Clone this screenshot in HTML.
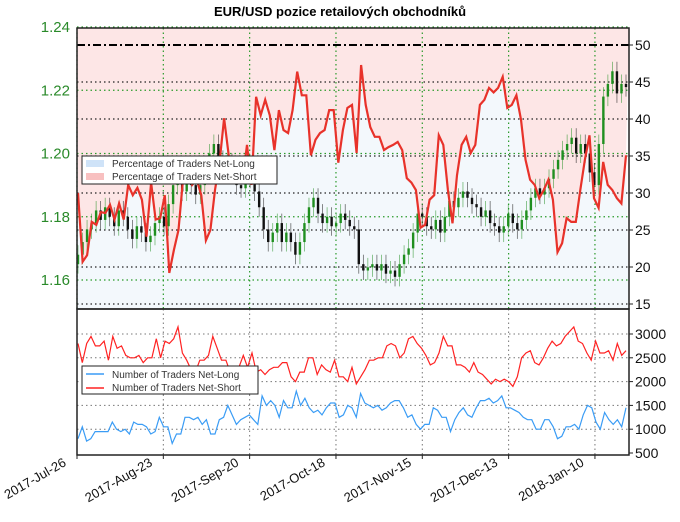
<!DOCTYPE html>
<html><head><meta charset="utf-8"><style>
body{margin:0;background:#fff;width:680px;height:517px;overflow:hidden}
svg text{font-family:"Liberation Sans",sans-serif}
</style></head><body>
<svg id="c" width="680" height="517" viewBox="0 0 680 517">
<text x="340" y="16" text-anchor="middle" font-size="13" font-weight="bold">EUR/USD pozice retailových obchodníků</text>
<g id="topPanel"></g>
<g id="botPanel"></g>
</svg>
<script>
const dateTicks=["2017-Jul-26","2017-Aug-23","2017-Sep-20","2017-Oct-18","2017-Nov-15","2017-Dec-13","2018-Jan-10"];
const dateTickDays=[0,28,56,84,112,140,168];
const priceTicks=[1.16,1.18,1.20,1.22,1.24];
const pctTicks=[15,20,25,30,35,40,45,50];
const countTicks=[500,1000,1500,2000,2500,3000];
const closes=[1.168,1.172,1.176,1.178,1.182,1.179,1.183,1.180,1.177,1.182,1.180,1.176,1.173,1.177,1.175,1.172,1.174,1.178,1.180,1.177,1.184,1.190,1.195,1.188,1.192,1.190,1.187,1.190,1.196,1.200,1.203,1.198,1.195,1.197,1.194,1.190,1.189,1.195,1.192,1.188,1.183,1.176,1.172,1.175,1.178,1.172,1.175,1.172,1.168,1.172,1.178,1.183,1.186,1.181,1.178,1.180,1.177,1.178,1.181,1.179,1.177,1.176,1.165,1.163,1.164,1.165,1.163,1.165,1.162,1.163,1.161,1.165,1.168,1.170,1.175,1.181,1.180,1.177,1.176,1.179,1.175,1.180,1.185,1.183,1.186,1.188,1.186,1.184,1.183,1.180,1.182,1.178,1.177,1.175,1.177,1.181,1.178,1.176,1.179,1.182,1.186,1.189,1.187,1.189,1.192,1.195,1.198,1.201,1.203,1.205,1.200,1.203,1.200,1.194,1.190,1.203,1.218,1.222,1.226,1.219,1.222,1.221];
const netShortPct=[30.0,20.7,21.6,26.1,25.7,27.4,27.3,28.4,26.4,28.6,26.4,31.1,29.7,30.7,29.1,24.1,31.4,26.4,26.6,29.7,19.2,22.3,25.0,31.8,32.4,31.1,31.8,29.7,23.6,25.0,30.4,34.2,40.1,35.1,33.1,31.4,31.5,36.5,31.1,43.0,40.5,42.6,40.5,35.8,41.2,38.5,38.1,41.2,46.4,43.2,43.2,35.1,37.2,38.1,38.5,41.2,41.2,34.1,38.5,41.5,41.9,35.4,47.3,41.9,38.9,37.6,37.6,35.8,36.2,36.5,36.9,35.8,32.0,31.4,30.4,25.3,25.7,29.1,29.7,37.8,36.5,30.4,25.9,32.4,36.5,37.6,35.4,36.5,41.9,42.6,44.2,43.6,44.2,45.7,41.5,41.9,43.2,39.9,34.5,31.8,31.1,29.3,30.4,31.8,29.1,22.0,23.2,26.6,26.1,26.1,30.4,34.5,37.8,29.3,28.0,34.2,31.1,30.4,29.3,28.6,35.1];
const netShortCount=[2800,2400,2800,2950,2750,2750,2850,2450,2950,2700,2750,2550,2500,2500,2550,2400,2500,2500,2900,2500,2850,2800,2900,3150,2600,2450,2250,2200,2450,2450,2550,2950,2700,2450,2450,2200,2250,2300,2550,2300,2600,2200,2250,2150,2250,2300,2300,2400,2400,2100,2000,2200,2200,2500,2500,2150,2350,2250,2200,2450,2100,2100,2000,2300,1950,2100,2250,2450,2450,2500,2500,2750,2800,2750,2500,2600,2900,2950,2800,2700,2550,2350,2400,2600,2950,2750,2750,2350,2350,2300,2200,2400,2200,2150,2050,1950,2050,2000,2050,2000,1900,2100,2500,2600,2650,2400,2350,2500,2700,2850,2750,2800,2950,3050,3150,2850,2800,2600,2450,2850,2600,2600,2650,2450,2800,2550,2650];
const netLongCount=[800,1050,750,800,950,950,950,950,1150,1000,950,1000,900,1150,1100,1100,1050,900,950,1250,1050,1050,700,900,900,1250,1250,1200,1250,1100,1200,900,900,1200,1250,1500,1300,1100,1200,1250,1300,1200,1100,1700,1500,1600,1500,1250,1600,1450,1450,1800,1500,1650,1450,1350,1400,1300,1450,1550,1550,1250,1300,1500,1450,1250,1750,1550,1500,1450,1500,1400,1450,1550,1600,1600,1450,1250,1300,1100,1000,1100,1100,1450,1400,1250,1250,950,1200,1350,1450,1300,1250,1450,1600,1600,1650,1550,1600,1700,1450,1450,1400,1350,1250,1200,1200,1000,1000,1200,1200,1050,800,850,1050,1050,1100,1000,1300,1500,1450,1150,1000,1350,1200,1100,1200,1050,1450];

const NS="http://www.w3.org/2000/svg";
const L=77,R=629,T1=28,B1=309,T2=309,B2=455;
function mk(p,tag,a){const e=document.createElementNS(NS,tag);for(const k in a)e.setAttribute(k,a[k]);p.appendChild(e);return e;}
const xDay=d=>L+d*3.083;
const yPrice=p=>27+(1.24-p)*3162.5;
const yPct=v=>45+(50-v)*7.4;
const yCnt=v=>453-(v-500)*0.0476;
const xIdx=(i,n)=>L+1+i*(R-L-4)/(n-1);
const topG=document.getElementById('topPanel'),botG=document.getElementById('botPanel');

let ptsS=netShortPct.map((v,i)=>xIdx(i,netShortPct.length).toFixed(1)+','+yPct(v).toFixed(1));
let f1=mk(topG,'polygon',{points:L+','+T1+' '+ptsS.join(' ')+' '+R+','+T1,fill:'#fde6e6'});


let f2=mk(topG,'polygon',{points:L+','+B1+' '+ptsS.join(' ')+' '+R+','+B1,fill:'#f3f8fc'});


pctTicks.forEach(v=>{if(v===50)return;const l=mk(topG,'line',{x1:L,x2:R,y1:yPct(v),y2:yPct(v),stroke:'#222','stroke-dasharray':'1.5,3','stroke-width':1.2});

});
priceTicks.forEach(p=>{const l=mk(topG,'line',{x1:L,x2:R,y1:yPrice(p),y2:yPrice(p),stroke:'#2a9a2a','stroke-dasharray':'1.5,3','stroke-width':1.2});

});
dateTickDays.forEach(d=>{const l=mk(topG,'line',{x1:xDay(d),x2:xDay(d),y1:T1,y2:B1,stroke:'#2a9a2a','stroke-dasharray':'1.5,3','stroke-width':1.2});

});
const l50=mk(topG,'line',{x1:L,x2:R,y1:yPct(50),y2:yPct(50),stroke:'#000','stroke-dasharray':'8,3,2,3','stroke-width':2});


closes.forEach((c,i)=>{const o=i?closes[i-1]:c-0.003;const x=xIdx(i,closes.length);const col=c>=o?'#1f8f1f':'#111';
const g=mk(topG,'g',{});


mk(g,'line',{x1:x,x2:x,y1:yPrice(Math.max(o,c)+0.003),y2:yPrice(Math.min(o,c)-0.003),stroke:col,'stroke-width':0.7,opacity:0.7});
mk(g,'rect',{x:x-1.2,y:yPrice(Math.max(o,c)),width:2.4,height:Math.max(1,Math.abs(yPrice(o)-yPrice(c))),fill:col});});
const sl=mk(topG,'polyline',{points:ptsS.join(' '),fill:'none',stroke:'#e8322a','stroke-width':2.2});


mk(topG,'rect',{x:L,y:T1,width:R-L,height:B1-T1,fill:'none',stroke:'#222','stroke-width':1.5});
priceTicks.forEach(p=>{const t=mk(topG,'text',{x:70,y:yPrice(p)+5,'text-anchor':'end','font-size':15,fill:'#2a8a2a'});t.textContent=p.toFixed(2);

});
pctTicks.forEach(v=>{const t=mk(topG,'text',{x:635,y:yPct(v)+5,'font-size':14,fill:'#111'});t.textContent=v;


mk(topG,'line',{x1:R,x2:R+4,y1:yPct(v),y2:yPct(v),stroke:'#222'});});
const lg=mk(topG,'g',{});


mk(lg,'rect',{x:82,y:156,width:195,height:28,fill:'#fff',stroke:'#222','stroke-width':1});
mk(lg,'rect',{x:86,y:160,width:18,height:7,fill:'#cfe3f8'});
mk(lg,'rect',{x:86,y:173,width:18,height:7,fill:'#f8c0c0'});
let tx1=mk(lg,'text',{x:112,y:167,'font-size':10,fill:'#333'});tx1.textContent='Percentage of Traders Net-Long';
tx1=mk(lg,'text',{x:112,y:180,'font-size':10,fill:'#333'});tx1.textContent='Percentage of Traders Net-Short';

countTicks.forEach(v=>{if(v>500){const l=mk(botG,'line',{x1:L,x2:R,y1:yCnt(v),y2:yCnt(v),stroke:'#777','stroke-dasharray':'1.5,3'});

}
const t=mk(botG,'text',{x:635,y:yCnt(v)+5,'font-size':14,fill:'#111'});t.textContent=v;


mk(botG,'line',{x1:R,x2:R+4,y1:yCnt(v),y2:yCnt(v),stroke:'#222'});});
dateTickDays.forEach((d,i)=>{const l=mk(botG,'line',{x1:xDay(d),x2:xDay(d),y1:T2,y2:B2,stroke:'#777','stroke-dasharray':'1.5,3'});


mk(botG,'line',{x1:xDay(d),x2:xDay(d),y1:B2,y2:B2+4,stroke:'#222'});
const x=xDay(d)-10,y=B2+10;const tx=mk(botG,'text',{x:x,y:y,'text-anchor':'end','font-size':13,fill:'#111',transform:`rotate(-30 ${x} ${y})`});tx.textContent=dateTicks[i];

});
const ls=mk(botG,'polyline',{points:netShortCount.map((v,i)=>xIdx(i,netShortCount.length).toFixed(1)+','+yCnt(v).toFixed(1)).join(' '),fill:'none',stroke:'#f22','stroke-width':1.2});


const ll=mk(botG,'polyline',{points:netLongCount.map((v,i)=>xIdx(i,netLongCount.length).toFixed(1)+','+yCnt(v).toFixed(1)).join(' '),fill:'none',stroke:'#3a9cf5','stroke-width':1.2});


mk(botG,'rect',{x:L,y:T2,width:R-L,height:B2-T2,fill:'none',stroke:'#222','stroke-width':1.5});
const lg2=mk(botG,'g',{});


mk(lg2,'rect',{x:82,y:366,width:176,height:28,fill:'#fff',stroke:'#222','stroke-width':1});
mk(lg2,'line',{x1:86,x2:104,y1:374,y2:374,stroke:'#3a9cf5','stroke-width':1.5});
mk(lg2,'line',{x1:86,x2:104,y1:388,y2:388,stroke:'#f22','stroke-width':1.5});
let tx2=mk(lg2,'text',{x:112,y:378,'font-size':10,fill:'#333'});tx2.textContent='Number of Traders Net-Long';
tx2=mk(lg2,'text',{x:112,y:391,'font-size':10,fill:'#333'});tx2.textContent='Number of Traders Net-Short';
</script>
</body></html>
